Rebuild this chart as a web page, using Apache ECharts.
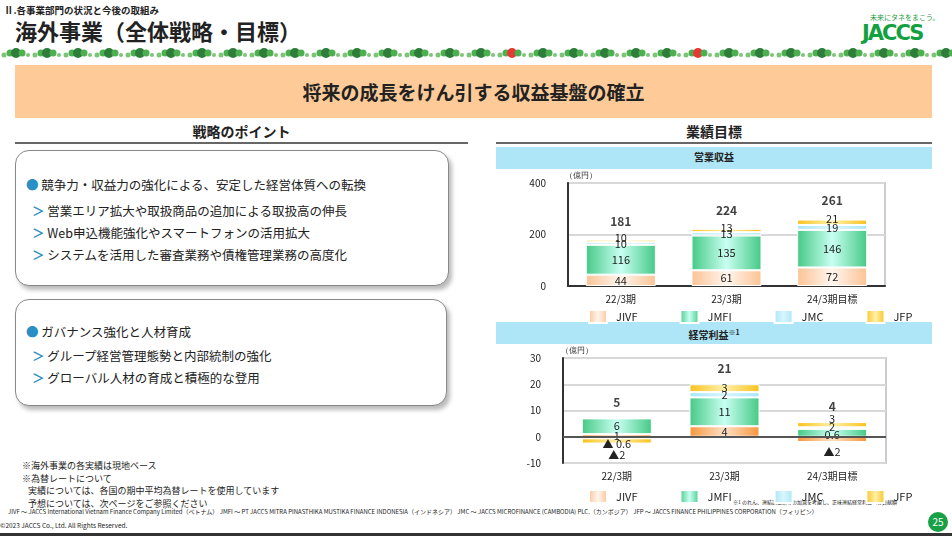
<!DOCTYPE html>
<html><head><meta charset="utf-8">
<script src="https://cdn.jsdelivr.net/npm/echarts@6/dist/echarts.min.js"></script>
<style>
body{margin:0;width:952px;height:536px;position:relative;overflow:hidden;background:#fff;font-family:"Noto Sans CJK JP","Noto Sans",sans-serif;color:#222}
.a{position:absolute;white-space:nowrap}
.panel{position:absolute;border:1px solid #888;border-radius:14px;box-shadow:3px 4px 4px #bbb;background:#fff}
.panel p{margin:0;font-size:12.5px;position:absolute;left:10px;white-space:nowrap}
.dot{color:#2a8fc4}
.arr{color:#2a8fc4;font-weight:bold}
.hd{position:absolute;font-weight:bold;font-size:14px;text-align:center}
.bar{position:absolute;background:#aee6f7;font-weight:bold;font-size:10px;text-align:center}
#dots{position:absolute;left:0;top:47px;width:952px;height:12px}
#chart{position:absolute;left:0;top:0;width:952px;height:536px;z-index:5}
</style></head><body>
<div class="a" style="left:4px;top:3px;font-size:9.5px;font-weight:bold">Ⅱ.各事業部門の状況と今後の取組み</div>
<div class="a" style="left:15px;top:14px;font-size:22px;font-weight:bold">海外事業（全体戦略・目標）</div>
<div class="a" style="left:870px;top:12px;font-size:7px;color:#1a9a3c">未来にタネをまこう。</div>
<div class="a" style="left:862px;top:21px;font-size:21px;font-weight:900;color:#12a040;letter-spacing:-2px;font-family:'DejaVu Sans'">JACCS</div>
<svg id="dots"></svg>
<div class="a" style="left:15px;top:65px;width:917px;height:53px;background:#fecb98;text-align:center;line-height:53px;font-size:19px;font-weight:bold">将来の成長をけん引する収益基盤の確立</div>

<div class="hd" style="left:15px;top:121px;width:453px">戦略のポイント</div>
<div style="position:absolute;left:15px;top:142px;width:453px;height:2px;background:#666"></div>
<div class="hd" style="left:496px;top:121px;width:436px">業績目標</div>
<div style="position:absolute;left:496px;top:142px;width:436px;height:2px;background:#666"></div>

<div class="panel" style="left:15px;top:150px;width:432px;height:134px">
<p style="top:24px"><span class="dot">●</span> 競争力・収益力の強化による、安定した経営体質への転換</p>
<p style="top:50px;left:16px"><span class="arr">＞</span> 営業エリア拡大や取扱商品の追加による取扱高の伸長</p>
<p style="top:72px;left:16px"><span class="arr">＞</span> Web申込機能強化やスマートフォンの活用拡大</p>
<p style="top:94px;left:16px"><span class="arr">＞</span> システムを活用した審査業務や債権管理業務の高度化</p>
</div>
<div class="panel" style="left:15px;top:299px;width:430px;height:105px">
<p style="top:22px"><span class="dot">●</span> ガバナンス強化と人材育成</p>
<p style="top:46px;left:16px"><span class="arr">＞</span> グループ経営管理態勢と内部統制の強化</p>
<p style="top:68px;left:16px"><span class="arr">＞</span> グローバル人材の育成と積極的な登用</p>
</div>

<div class="bar" style="left:496px;top:147px;width:436px;height:22px;line-height:20px">営業収益</div>
<div class="bar" style="left:496px;top:322px;width:436px;height:22px;line-height:20px">経常利益<sup style="font-size:7px">※1</sup></div>

<div class="a" style="left:22px;top:460px;font-size:9px;line-height:12.5px">※海外事業の各実績は現地ベース<br>※為替レートについて<br>&nbsp;&nbsp;&nbsp;実績については、各国の期中平均為替レートを使用しています<br>&nbsp;&nbsp;&nbsp;予想については、次ページをご参照ください</div>
<div class="a" style="left:733px;top:498px;font-size:5px">※1 のれん、連結調整額等の加減を考慮し、正味連結経常利益への貢献額</div>
<div class="a" style="left:8px;top:507px;font-size:6px">JIVF ～ JACCS International Vietnam Finance Company Limited（ベトナム） JMFI ～ PT JACCS MITRA PINASTHIKA MUSTIKA FINANCE INDONESIA（インドネシア） JMC ～ JACCS MICROFINANCE (CAMBODIA) PLC.（カンボジア） JFP ～ JACCS FINANCE PHILIPPINES CORPORATION（フィリピン）</div>
<div class="a" style="left:0px;top:520px;font-size:6.5px">©2023 JACCS Co., Ltd. All Rights Reserved.</div>
<div class="a" style="left:928px;top:512px;width:20px;height:20px;border-radius:10px;background:#17a046;color:#fff;font-size:10px;text-align:center;line-height:20px">25</div>
<div style="position:absolute;left:0;top:533px;width:952px;height:3px;background:#333"></div>
<div id="chart"></div>
<script>
// ドット装飾
var svg = document.getElementById('dots'), h = '';
var pat = [[2.5, '#7cc576'], [3.5, '#4caf50'], [5, '#2e7d3a'], [3.5, '#4caf50'], [2, '#7cc576']];
for (var g = 0; g < 31; g++) {
  var x0 = g * 31;
  for (var k = 0; k < 5; k++) {
    var c = pat[k][1];
    if (k == 2 && (g == 16 || g == 22)) c = '#e53935';
    h += '<circle cx="' + (x0 + 4 + k * 6) + '" cy="' + (k == 0 || k == 4 ? 8 : 6) + '" r="' + pat[k][0] + '" fill="' + c + '"/>';
  }
}
svg.innerHTML = h;

var categories = ['22/3期', '23/3期', '24/3期目標'];
var names = ['JIVF', 'JMFI', 'JMC', 'JFP'];
var revJIVF = [44, 61, 72];
var revJMFI = [116, 135, 146];
var revJMC = [10, 13, 19];
var revJFP = [10, 13, 21];
var revTotal = [181, 224, 261];
var profJIVF = [1, 4, -2];
var profJMFI = [6, 11, 3];
var profJMC = [-0.6, 2, 0.6];
var profJFP = [-2, 3, 2];
var profTotal = [5, 21, 4];
var profLabels = [['1', '4', '▲2'], ['6', '11', '3'], ['▲ 0.6', '2', '0.6'], ['▲2', '3', '2']];
// 小さい値のラベル位置
var profLabelPos = {
  '0-2': {position: 'bottom', distance: 4},
  '2-0': {offset: [0, 6]},
  '3-0': {position: 'bottom', distance: 6},
  '1-2': {offset: [0, -14]},
  '2-2': {offset: [0, 7]},
  '3-2': {offset: [0, 2]}
};

function grad(edge, mid) {
  return new echarts.graphic.LinearGradient(0, 0, 1, 0, [
    {offset: 0, color: edge}, {offset: 0.5, color: mid}, {offset: 1, color: edge}]);
}
var revColors = [grad('#fbc394', '#fff6ee'), grad('#45c985', '#c8fff2'), grad('#a9e6f7', '#d8f6fd'), grad('#f8c21c', '#fff0a8')];
var profColors = [grad('#f7963a', '#fde0c6'), revColors[1], revColors[2], revColors[3]];

var chart = echarts.init(document.getElementById('chart'));
var font = '"Noto Sans CJK JP", sans-serif';
function yAxis(idx, min, max, step) {
  return {gridIndex: idx, type: 'value', min: min, max: max, interval: step,
    axisLine: {show: true, lineStyle: {color: '#333', width: 2}},
    axisTick: {show: false}, axisLabel: {color: '#222', fontSize: 10, margin: 22},
    splitLine: {lineStyle: {color: '#d8d8d8', width: 2}}};
}
function xAxis(idx, line) {
  return {gridIndex: idx, type: 'category', data: categories,
    axisLine: {show: line, onZero: false, lineStyle: {color: '#333', width: 2}},
    axisTick: {show: false}, axisLabel: {color: '#222', fontSize: 10, margin: 8}};
}
var series = [];
var revData = [revJIVF, revJMFI, revJMC, revJFP];
var profData = [profJIVF, profJMFI, profJMC, profJFP];
names.forEach(function (n, i) {
  series.push({name: n, type: 'bar', stack: 'rev', xAxisIndex: 0, yAxisIndex: 0,
    data: revData[i], barWidth: 70, itemStyle: {color: revColors[i], borderColor: '#fff', borderWidth: 1},
    label: {show: true, color: '#222', fontSize: 11, position: 'inside', offset: i == 3 ? [0, -3] : [0, 0]}});
});
series.push({type: 'scatter', xAxisIndex: 0, yAxisIndex: 0, symbolSize: 0, silent: true,
  data: revTotal, label: {show: true, position: 'top', distance: 12, fontWeight: 'bold', fontSize: 12, color: '#111'}});
names.forEach(function (n, i) {
  series.push({name: n, type: 'bar', stack: 'prof', xAxisIndex: 1, yAxisIndex: 1,
    data: profData[i].map(function (v, j) {
      var lp = profLabelPos[i + '-' + j];
      return lp ? {value: v, label: lp} : v;
    }),
    barWidth: 70, itemStyle: {color: profColors[i], borderColor: '#fff', borderWidth: 1},
    label: {show: true, color: '#222', fontSize: 11, position: 'inside',
      formatter: function (p) { return profLabels[i][p.dataIndex]; }},
    markLine: i == 0 ? {symbol: 'none', silent: true, label: {show: false},
      lineStyle: {color: '#555', width: 2, type: 'solid'}, data: [{yAxis: 0}]} : undefined});
});
var profTop = profData[0].map(function (_, j) {
  var s = 0; profData.forEach(function (d) { if (d[j] > 0) s += d[j]; }); return s;
});
series.push({type: 'scatter', xAxisIndex: 1, yAxisIndex: 1, symbolSize: 0, silent: true,
  data: profTop, label: {show: true, position: 'top', distance: 10, fontWeight: 'bold', fontSize: 12, color: '#111',
    formatter: function (p) { return profTotal[p.dataIndex]; }}});

function legend(top) {
  return {top: top, left: 583, width: 360, itemWidth: 18, itemHeight: 13, itemGap: 42, icon: 'rect',
    data: names, textStyle: {fontSize: 11, color: '#222', padding: [0, 0, 0, 4]}, selectedMode: false};
}
chart.setOption({
  animation: false,
  textStyle: {fontFamily: font},
  grid: [
    {left: 568, right: 67, top: 183, height: 103, show: true, borderColor: '#ccc', borderWidth: 2},
    {left: 563, right: 66, top: 358, height: 105, show: true, borderColor: '#ccc', borderWidth: 2}
  ],
  xAxis: [xAxis(0, true), xAxis(1, false)],
  yAxis: [yAxis(0, 0, 400, 200), yAxis(1, -10, 30, 10)],
  legend: [legend(304), legend(484)],
  graphic: [
    {type: 'text', left: 565, top: 172, style: {text: '（億円）', fontSize: 8, fill: '#222'}},
    {type: 'text', left: 561, top: 347, style: {text: '（億円）', fontSize: 8, fill: '#222'}}
  ],
  series: series
});
</script>
</body></html>
